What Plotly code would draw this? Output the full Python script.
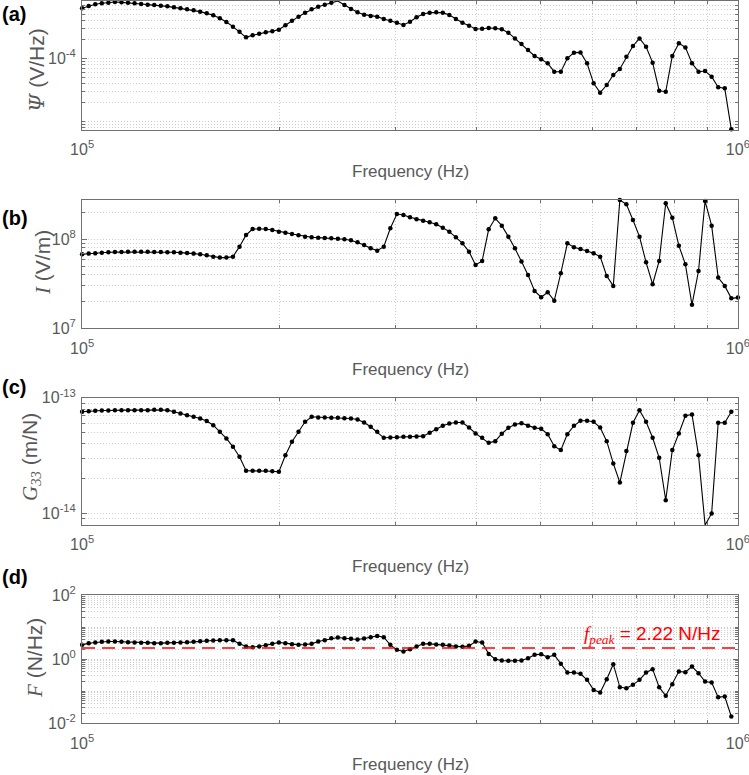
import numpy as np
import plotly.graph_objects as go

# ---------------- data ----------------
FREQ_START_EXP = 5
FREQ_STOP_EXP = 6
N_FREQ = 101
freq = np.logspace(FREQ_START_EXP, FREQ_STOP_EXP, N_FREQ)  # Hz, log-spaced sweep

psi = [6.21e-4, 6.76e-4, 7.19e-4, 7.46e-4, 7.64e-4, 7.83e-4, 7.73e-4, 7.64e-4, 7.46e-4, 7.28e-4,
       7.10e-4, 7.02e-4, 6.84e-4, 6.68e-4, 6.44e-4, 6.21e-4, 5.98e-4, 5.77e-4, 5.50e-4, 5.17e-4,
       4.81e-4, 4.31e-4, 3.77e-4, 3.18e-4, 2.65e-4, 2.15e-4, 2.32e-4, 2.46e-4, 2.58e-4, 2.68e-4,
       2.85e-4, 3.34e-4, 3.96e-4, 4.58e-4, 5.30e-4, 5.98e-4, 6.60e-4, 7.10e-4, 7.64e-4, 8.12e-4,
       7.02e-4, 6.06e-4, 5.37e-4, 4.93e-4, 4.69e-4, 4.58e-4, 4.21e-4, 3.96e-4, 3.68e-4, 3.38e-4,
       3.81e-4, 4.47e-4, 5.05e-4, 5.30e-4, 5.37e-4, 5.30e-4, 4.87e-4, 4.21e-4, 3.68e-4, 3.30e-4,
       2.92e-4, 2.95e-4, 3.03e-4, 2.99e-4, 2.88e-4, 2.55e-4, 2.07e-4, 1.69e-4, 1.35e-4, 1.09e-4,
       9.63e-5, 8.32e-5, 6.13e-5, 6.13e-5, 1.00e-4, 1.23e-4, 1.24e-4, 8.32e-5, 4.01e-5, 2.85e-5,
       3.77e-5, 5.43e-5, 6.76e-5, 1.06e-4, 1.57e-4, 2.07e-4, 1.53e-4, 8.53e-5, 3.06e-5, 2.95e-5,
       1.09e-4, 1.73e-4, 1.49e-4, 8.32e-5, 6.13e-5, 6.29e-5, 5.11e-5, 3.46e-5, 3.34e-5, 7.45e-6]

efield = [6.78e7, 6.90e7, 6.95e7, 7.07e7, 7.14e7, 7.20e7, 7.20e7, 7.26e7, 7.26e7, 7.26e7,
          7.26e7, 7.20e7, 7.20e7, 7.14e7, 7.14e7, 7.07e7, 7.02e7, 6.90e7, 6.78e7, 6.60e7,
          6.38e7, 6.22e7, 6.22e7, 6.38e7, 8.26e7, 1.118e8, 1.305e8, 1.316e8, 1.305e8, 1.272e8,
          1.218e8, 1.187e8, 1.147e8, 1.108e8, 1.071e8, 1.052e8, 1.043e8, 1.034e8, 1.025e8, 1.016e8,
          1.00e8, 9.74e7, 9.25e7, 8.63e7, 7.92e7, 7.45e7, 8.26e7, 1.328e8, 1.924e8, 1.875e8,
          1.766e8, 1.677e8, 1.620e8, 1.551e8, 1.473e8, 1.351e8, 1.218e8, 1.052e8, 9.01e7, 7.26e7,
          5.14e7, 5.70e7, 1.294e8, 1.720e8, 1.423e8, 1.071e8, 7.92e7, 5.61e7, 3.97e7, 2.62e7,
          2.23e7, 2.54e7, 2.04e7, 4.15e7, 9.01e7, 8.12e7, 7.78e7, 7.39e7, 6.95e7, 6.38e7,
          3.87e7, 2.99e7, 2.76e8, 2.47e8, 1.648e8, 1.071e8, 5.51e7, 3.12e7, 5.70e7, 2.54e8,
          1.750e8, 8.48e7, 5.23e7, 1.83e7, 4.40e7, 2.69e8, 1.423e8, 3.71e7, 2.99e7, 2.17e7,
          2.21e7]

g33 = [7.57e-14, 7.67e-14, 7.72e-14, 7.77e-14, 7.77e-14, 7.82e-14, 7.82e-14, 7.82e-14, 7.82e-14, 7.82e-14,
       7.82e-14, 7.87e-14, 7.87e-14, 7.82e-14, 7.57e-14, 7.32e-14, 7.08e-14, 6.85e-14, 6.63e-14, 6.29e-14,
       5.80e-14, 5.08e-14, 4.45e-14, 3.77e-14, 3.09e-14, 2.34e-14, 2.34e-14, 2.34e-14, 2.34e-14, 2.32e-14,
       2.29e-14, 3.19e-14, 4.17e-14, 5.08e-14, 6.20e-14, 6.85e-14, 6.76e-14, 6.76e-14, 6.72e-14, 6.72e-14,
       6.67e-14, 6.63e-14, 6.50e-14, 6.12e-14, 5.62e-14, 5.08e-14, 4.51e-14, 4.54e-14, 4.57e-14, 4.60e-14,
       4.60e-14, 4.63e-14, 4.66e-14, 4.98e-14, 5.36e-14, 5.73e-14, 6.00e-14, 6.12e-14, 6.12e-14, 5.54e-14,
       4.92e-14, 4.51e-14, 4.08e-14, 4.22e-14, 4.89e-14, 5.50e-14, 5.88e-14, 6.04e-14, 5.73e-14, 5.50e-14,
       5.40e-14, 4.85e-14, 3.82e-14, 3.53e-14, 4.85e-14, 5.73e-14, 6.33e-14, 6.33e-14, 6.20e-14, 5.54e-14,
       4.22e-14, 2.71e-14, 1.85e-14, 3.46e-14, 6.08e-14, 7.82e-14, 6.20e-14, 4.51e-14, 3.03e-14, 1.30e-14,
       3.53e-14, 4.92e-14, 6.99e-14, 7.18e-14, 3.19e-14, 7.94e-15, 1.00e-14, 6.08e-14, 6.08e-14, 7.57e-14]

force = [2.79, 3.15, 3.30, 3.46, 3.54, 3.54, 3.46, 3.38, 3.30, 3.22,
         3.22, 3.15, 3.15, 3.22, 3.22, 3.30, 3.38, 3.46, 3.63, 3.72,
         3.81, 3.90, 3.90, 3.90, 3.00, 2.48, 2.36, 2.48, 2.73, 3.00,
         3.30, 3.15, 2.93, 2.79, 2.86, 3.00, 3.54, 3.90, 4.51, 4.72,
         4.51, 4.29, 4.09, 4.40, 4.84, 5.32, 4.84, 2.79, 1.95, 1.73,
         2.05, 2.48, 3.00, 3.00, 2.86, 2.79, 2.66, 2.48, 2.42, 2.60,
         3.54, 3.30, 1.46, 1.00, 0.906, 0.885, 0.885, 0.906, 1.07, 1.36,
         1.43, 1.15, 1.36, 0.714, 0.383, 0.383, 0.348, 0.226, 0.110, 0.0912,
         0.237, 0.697, 0.134, 0.124, 0.158, 0.226, 0.383, 0.487, 0.134, 0.0718,
         0.166, 0.411, 0.393, 0.589, 0.365, 0.201, 0.187, 0.0653, 0.0684, 0.0163]

F_PEAK = 2.22

x_ticks = [1e5, 1e6]
x_ticktext = ["10<sup>5</sup>", "10<sup>6</sup>"]

# ---------------- layout helpers ----------------
W, H = 749, 775
X0, X1 = 82, 738
panels = [  # (top px, bottom px)
    (1, 130),
    (200, 328.3),
    (397.7, 525),
    (595, 723.3),
]

TXT = "#595959"
AX = "#707070"
GRID = "#cfcfcf"
DOT = "1px,2px"
SANS = "Liberation Sans, Arial, sans-serif"
SERIF = "Liberation Serif, Times New Roman, serif"


def minor_vals(e0, e1, skip=()):
    out = []
    for e in range(e0, e1 + 1):
        for m in range(1, 10):
            v = m * 10.0 ** e
            if m == 1 and e in skip:
                continue
            out.append(v)
    return out


fig = go.Figure()
series = [psi, efield, g33, force]
for i, ys in enumerate(series):
    sfx = "" if i == 0 else str(i + 1)
    fig.add_trace(go.Scatter(
        x=freq[:len(ys)], y=ys, mode="lines+markers",
        line=dict(color="black", width=1.1),
        marker=dict(color="black", size=4.5, symbol="circle"),
        xaxis="x" + sfx, yaxis="y" + sfx, showlegend=False, cliponaxis=False,
    ))

y_specs = [
    dict(range=[-5.138, -3.0905], tickvals=[1e-4], ticktext=["10<sup>-4</sup>"],
         minor=minor_vals(-6, -3, skip=(-4,))),
    dict(range=[6.999, 8.4416], tickvals=[1e7, 1e8], ticktext=["10<sup>7</sup>", "10<sup>8</sup>"],
         minor=minor_vals(6, 8, skip=(7, 8))),
    dict(range=[-14.1, -12.999], tickvals=[1e-14, 1e-13], ticktext=["10<sup>-14</sup>", "10<sup>-13</sup>"],
         minor=minor_vals(-15, -13, skip=(-14, -13))),
    dict(range=[-2.001, 2.001], tickvals=[1e-2, 1.0, 1e2], ticktext=["10<sup>-2</sup>", "10<sup>0</sup>", "10<sup>2</sup>"],
         minor=minor_vals(-2, 1, skip=(-2, 0))),
]

layout = dict(
    width=W, height=H, margin=dict(l=0, r=0, t=0, b=0, autoexpand=False),
    paper_bgcolor="white", plot_bgcolor="white",
    font=dict(family=SANS, color=TXT, size=16),
    showlegend=False,
)

for i, (top, bot) in enumerate(panels):
    sfx = "" if i == 0 else str(i + 1)
    ydom = [1 - bot / H, 1 - top / H]
    xdom = [X0 / W, X1 / W]
    layout["xaxis" + sfx] = dict(
        type="log", range=[4.9998, 6.0002], domain=xdom, anchor="y" + sfx, automargin=False,
        tickmode="array", tickvals=x_ticks, ticktext=x_ticktext,
        ticks="inside", ticklen=5, tickcolor=AX, tickwidth=1,
        showline=True, linecolor=AX, linewidth=1, mirror="ticks",
        showgrid=True, gridcolor=GRID, griddash=DOT, gridwidth=1,
        tickfont=dict(family=SANS, size=16, color=TXT),
        ticklabelstandoff=5, ticklabeloverflow="allow",
        minor=dict(tickmode="array", tickvals=[m * 1e5 for m in range(2, 10)],
                   ticks="inside", ticklen=3, tickcolor=AX,
                   showgrid=True, gridcolor=GRID, griddash=DOT, gridwidth=1),
        zeroline=False, fixedrange=True,
    )
    ys = y_specs[i]
    layout["yaxis" + sfx] = dict(
        type="log", range=ys["range"], domain=ydom, anchor="x" + sfx, automargin=False,
        tickmode="array", tickvals=ys["tickvals"], ticktext=ys["ticktext"],
        ticks="inside", ticklen=5, tickcolor=AX, tickwidth=1,
        showline=True, linecolor=AX, linewidth=1, mirror="ticks",
        showgrid=True, gridcolor=GRID, griddash=DOT, gridwidth=1,
        tickfont=dict(family=SANS, size=16, color=TXT),
        ticklabelstandoff=2, ticklabeloverflow="allow",
        minor=dict(tickmode="array", tickvals=ys["minor"],
                   ticks="inside", ticklen=3, tickcolor=AX,
                   showgrid=True, gridcolor=GRID, griddash=DOT, gridwidth=1),
        zeroline=False, fixedrange=True,
    )

fig.update_layout(**layout)

annotations = []
# panel letters
for lab, yc in zip(["(a)", "(b)", "(c)", "(d)"], [14, 218, 387, 577]):
    annotations.append(dict(text="<b>" + lab + "</b>", xref="paper", yref="paper",
                            x=0, y=1 - yc / H, xanchor="left", yanchor="middle",
                            showarrow=False, font=dict(family=SANS, size=20, color="black")))
# x titles
for (top, bot) in panels:
    annotations.append(dict(text="Frequency (Hz)", xref="paper", yref="paper",
                            x=((X0 + X1) / 2) / W, y=1 - (bot + 41) / H,
                            xanchor="center", yanchor="middle", showarrow=False,
                            font=dict(family=SANS, size=17, color=TXT)))
# y titles
ytitles = [
    ("<span style='font-family:DejaVu Serif'><i>Ψ</i></span> (V/Hz)", 37, 70),
    ("<span style='font-family:Liberation Serif'><i>I</i></span> (V/m)", 43, 263),
    ("<span style='font-family:Liberation Serif'><i>G</i><sub><i>33</i></sub></span> (m/N)", 31, 457),
    ("<span style='font-family:Liberation Serif'><i>F</i></span> (N/Hz)", 35, 658),
]
for txt, xc, yc in ytitles:
    annotations.append(dict(text=txt, xref="paper", yref="paper",
                            x=xc / W, y=1 - yc / H, xanchor="center", yanchor="middle",
                            textangle=-90, showarrow=False,
                            font=dict(family=SANS, size=21, color=TXT)))
# f_peak label
annotations.append(dict(
    text="<span style='font-family:Liberation Serif'><i>f</i><sub><i>peak</i></sub></span> = %.2f N/Hz" % F_PEAK,
    xref="paper", yref="paper", x=723 / W, y=1 - 635 / H,
    xanchor="right", yanchor="middle", showarrow=False,
    font=dict(family=SANS, size=19, color="#ff0000")))

fig.update_layout(annotations=annotations)

fig.add_shape(type="line", xref="x4 domain", yref="y4", x0=0, x1=1, y0=F_PEAK, y1=F_PEAK,
              line=dict(color="#ff0000", width=1.5, dash="13px,7px"))

fig.write_html("out.html", config={"displayModeBar": False},
               post_script="document.body.style.margin='0px';document.body.style.padding='0px';")
